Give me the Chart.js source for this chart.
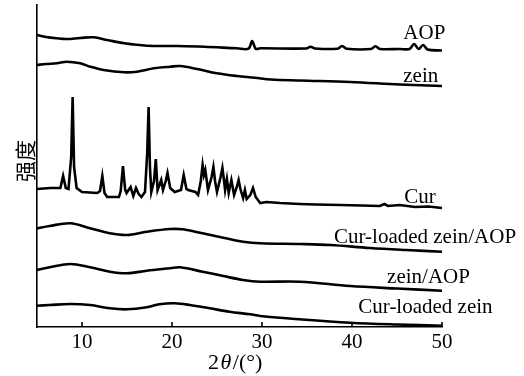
<!DOCTYPE html>
<html>
<head>
    <meta charset="utf-8">
    <title>XRD patterns</title>
    <script src="https://cdn.jsdelivr.net/npm/chart.js"></script>
    <style>
        body {
            margin: 0;
            background: #fff;
        }
        canvas {
            display: block;
        }
    </style>
</head>
<body>
    <canvas id="xrdChart" width="524" height="376"></canvas>

    <script>
    // 2θ tick labels
    const angleTicks = [10, 20, 30, 40, 50];

    // sample names, top to bottom
    const sampleNames = ['AOP', 'zein', 'Cur', 'Cur-loaded zein/AOP', 'zein/AOP', 'Cur-loaded zein'];

    // [2θ, intensity (a.u., stacked)]
    const aop = [
        [5.0, 292], [6.0, 290], [7.2, 288.7], [8.3, 288], [9.8, 289], [11.3, 289.7], [12.8, 287],
        [14.7, 283.7], [17.2, 281.3], [20.6, 281], [23.6, 280.3], [27.2, 278.7], [28.5, 278.3],
        [28.9, 286], [29.3, 278.3], [29.8, 278.7], [34.9, 278.5], [35.4, 280.3], [35.9, 278.5],
        [38.4, 278.3], [38.9, 281], [39.4, 278.3], [42.1, 278], [42.6, 280.7], [43.1, 278],
        [45.3, 278], [46.4, 278], [46.9, 283], [47.4, 278], [47.9, 282], [48.4, 277.5], [50.0, 276.5]
    ];
    const zein = [
        [5.0, 262], [6.0, 263], [7.2, 263.7], [8.3, 265.3], [9.8, 263.7], [10.9, 260.3], [12.4, 257],
        [14.7, 254.7], [16.1, 255.3], [18.0, 258.7], [19.8, 260.3], [20.9, 261], [22.8, 258],
        [25.0, 253.7], [27.2, 251], [29.2, 249.3], [31.0, 247.5], [34.2, 246.5], [39.8, 245],
        [45.3, 242.5], [50.0, 241]
    ];
    const cur = [
        [5.0, 138], [6.5, 139], [7.2, 139], [7.6, 139], [7.9, 151], [8.2, 139], [8.5, 138],
        [8.8, 170], [8.96, 230], [9.12, 160], [9.4, 139], [10.0, 135], [11.7, 134], [12.0, 136],
        [12.26, 151], [12.5, 134], [12.8, 130], [14.1, 130], [14.3, 136], [14.55, 161], [14.8, 137],
        [14.95, 134], [15.4, 140], [15.7, 131], [16.0, 139], [16.3, 133], [16.6, 130], [17.0, 135],
        [17.25, 175], [17.4, 220], [17.55, 160], [17.7, 135], [18.0, 146], [18.2, 168], [18.4, 137],
        [18.8, 147], [19.0, 137], [19.3, 146], [19.5, 154], [19.8, 139], [20.3, 135], [21.0, 137],
        [21.3, 152], [21.6, 138], [21.8, 137], [22.6, 135], [22.9, 132], [23.2, 146], [23.4, 162],
        [23.55, 152], [23.7, 157], [24.0, 137], [24.4, 150], [24.6, 160], [24.8, 145], [25.0, 135],
        [25.4, 150], [25.6, 159], [25.8, 145], [25.9, 137], [26.1, 148], [26.3, 134], [26.6, 147],
        [26.9, 132], [27.2, 140], [27.4, 147], [27.6, 138], [27.9, 129], [28.1, 137], [28.3, 128],
        [28.7, 132], [29.0, 139], [29.3, 130], [29.8, 124], [30.5, 125], [32.0, 124], [34.2, 123],
        [36.0, 122.5], [38.7, 122], [41.0, 121.5], [43.1, 121], [43.6, 123], [44.0, 121],
        [45.3, 122], [47.0, 120], [48.5, 120.5], [50.0, 119]
    ];
    const curZeinAop = [
        [5.0, 98.5], [6.4, 101], [8.7, 103.7], [10.9, 98.7], [13.1, 93.7], [15.0, 92], [17.2, 95.3],
        [19.8, 98], [21.2, 97.7], [23.4, 93.7], [25.7, 89.3], [27.9, 85.3], [29.8, 83.7],
        [34.2, 83], [37.6, 82], [42.0, 79], [46.0, 77], [50.0, 75.3]
    ];
    const zeinAop = [
        [5.0, 57], [6.4, 59.7], [8.7, 63], [10.9, 59.7], [13.1, 55.3], [15.0, 53.7], [17.2, 56.3],
        [19.8, 58.7], [20.9, 59.7], [23.4, 55.3], [25.7, 51], [27.9, 47], [29.8, 45.3],
        [34.2, 45.3], [39.8, 41], [45.0, 38.5], [50.0, 36.3]
    ];
    const curZein = [
        [5.0, 21.3], [6.4, 22], [8.7, 23], [10.9, 22], [13.1, 18.7], [15.0, 17.7], [17.2, 19.7],
        [18.6, 22.7], [20.3, 23.7], [22.0, 22], [24.2, 18.7], [26.4, 15.3], [28.7, 12.7],
        [29.8, 11], [34.2, 7.7], [39.8, 4.3], [45.0, 2.5], [50.0, 1.3]
    ];

    const allSeries = [aop, zein, cur, curZeinAop, zeinAop, curZein];

    // where each name sits (left edge in 2θ, baseline in intensity)
    const labelSpots = [[45.7, 288], [45.7, 245], [45.8, 124], [38.0, 84], [43.9, 44], [40.7, 14]];

    const serif = '"Liberation Serif", "Times New Roman", serif';

    const xrdDecor = {
        id: 'xrdDecor',
        afterDraw(chart) {
            const ctx = chart.ctx;
            const xs = chart.scales.x;
            const ys = chart.scales.y;
            const bottom = chart.chartArea.bottom;
            ctx.save();
            ctx.strokeStyle = '#000';
            ctx.lineWidth = 1.6;
            // inward tick marks
            angleTicks.forEach(t => {
                const px = xs.getPixelForValue(t);
                ctx.beginPath();
                ctx.moveTo(px, bottom);
                ctx.lineTo(px, bottom - 5);
                ctx.stroke();
            });
            // sample names
            ctx.fillStyle = '#000';
            ctx.font = '21px ' + serif;
            ctx.textBaseline = 'alphabetic';
            ctx.textAlign = 'left';
            sampleNames.forEach((name, i) => {
                const [a, v] = labelSpots[i];
                ctx.fillText(name, xs.getPixelForValue(a), ys.getPixelForValue(v));
            });
            // x title: 2θ/(°)
            const parts = [['2', ''], ['θ', 'italic '], ['/(°)', '']];
            let cx = 208;
            parts.forEach(([txt, style]) => {
                ctx.font = style + '22px ' + serif;
                ctx.fillText(txt, cx, 369);
                cx += ctx.measureText(txt).width + 1.5;
            });
            // y title
            ctx.translate(25, 161);
            ctx.rotate(-Math.PI / 2);
            ctx.font = '21px "Noto Sans CJK SC"';
            ctx.textAlign = 'center';
            ctx.textBaseline = 'middle';
            ctx.fillText('强度', 0, 0);
            ctx.restore();
        }
    };

    new Chart(document.getElementById('xrdChart'), {
        type: 'line',
        data: {
            datasets: allSeries.map((s, i) => ({
                label: sampleNames[i],
                data: s.map(p => ({ x: p[0], y: p[1] })),
                borderColor: '#000',
                borderWidth: 2.6,
                pointRadius: 0,
                tension: i === 2 ? 0 : 0.35,
                fill: false
            }))
        },
        options: {
            responsive: false,
            animation: false,
            layout: { padding: { top: 5, right: 82, left: 0, bottom: 0 } },
            plugins: {
                legend: { display: false },
                tooltip: { enabled: false }
            },
            scales: {
                x: {
                    type: 'linear',
                    min: 5,
                    max: 50,
                    afterBuildTicks: scale => {
                        scale.ticks = angleTicks.map(v => ({ value: v }));
                    },
                    afterFit: scale => { scale.height = 49; },
                    grid: { display: false, drawTicks: false },
                    border: { display: true, color: '#000', width: 1.6 },
                    ticks: {
                        color: '#000',
                        padding: 3,
                        maxRotation: 0,
                        font: { family: serif, size: 21 }
                    }
                },
                y: {
                    min: 0,
                    max: 322,
                    afterFit: scale => { scale.width = 37; },
                    grid: { display: false, drawTicks: false },
                    border: { display: true, color: '#000', width: 1.6 },
                    ticks: { display: false }
                }
            }
        },
        plugins: [xrdDecor]
    });
</script>

</body>
</html>
